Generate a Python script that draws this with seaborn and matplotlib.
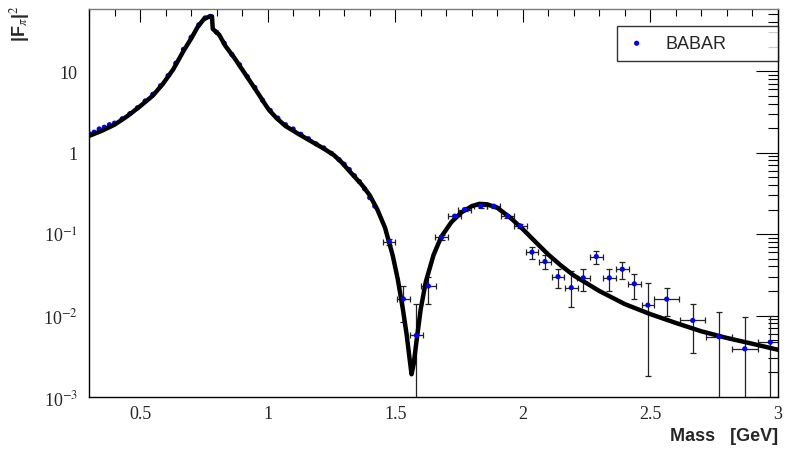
import matplotlib
matplotlib.use("Agg")
import matplotlib.pyplot as plt
import seaborn as sns
import pandas as pd
from matplotlib.ticker import FixedLocator, FixedFormatter, MultipleLocator, LogLocator, NullFormatter

# Fit curve, values
curve_mass = [0.30, 0.35, 0.40, 0.45, 0.50, 0.55, 0.59, 0.63, 0.67, 0.70, 0.725, 0.75, 0.77,
              0.782, 0.785, 0.81, 0.835, 0.87, 0.90, 0.93, 0.965, 0.985, 1.005, 1.035, 1.07,
              1.12, 1.17, 1.22, 1.26, 1.29, 1.33, 1.37, 1.40, 1.43, 1.46, 1.49, 1.51, 1.53,
              1.545, 1.555, 1.564, 1.572, 1.583, 1.60, 1.62, 1.65, 1.68, 1.72, 1.76, 1.80,
              1.83, 1.86, 1.90, 1.95, 2.00, 2.05, 2.10, 2.15, 2.20, 2.30, 2.40, 2.50, 2.60,
              2.70, 2.80, 2.90, 3.00]
curve_ff2 = [1.6, 1.85, 2.2, 2.8, 3.7, 5.0, 7.0, 10.5, 17.6, 25, 34.5, 43.5, 46.5,
             47, 33, 28, 20.3, 14.5, 10.5, 7.6, 5.2, 4.15, 3.35, 2.65, 2.12,
             1.7, 1.38, 1.12, 0.93, 0.76, 0.55, 0.40, 0.30, 0.20, 0.12, 0.055, 0.028, 0.012,
             0.0058, 0.0032, 0.0019, 0.0025, 0.0047, 0.012, 0.026, 0.055, 0.092, 0.14, 0.185, 0.22,
             0.235, 0.232, 0.21, 0.16, 0.115, 0.08, 0.056, 0.041, 0.031, 0.020, 0.0138, 0.0104, 0.0081,
             0.0064, 0.0053, 0.0045, 0.0038]

# BABAR points in the dense region (no visible error bars)
dense_mass = [0.30, 0.32, 0.34, 0.36, 0.38, 0.40, 0.43, 0.46, 0.49, 0.52, 0.55, 0.58, 0.61,
              0.64, 0.67, 0.70, 0.73, 0.755, 0.775, 0.80, 0.83, 0.86, 0.89, 0.92, 0.95, 0.98,
              1.01, 1.04, 1.07, 1.10, 1.13, 1.16, 1.19, 1.22, 1.25, 1.28, 1.30, 1.32, 1.34,
              1.36, 1.38, 1.40, 1.42]
dense_ff2 = [1.72, 1.78, 1.95, 2.05, 2.2, 2.3, 2.6, 3.0, 3.55, 4.3, 5.2, 6.6, 8.8,
             12.5, 18.5, 26, 37, 45, 47, 30, 22, 16, 12, 8.6, 6.3, 4.4,
             3.3, 2.65, 2.2, 1.95, 1.68, 1.48, 1.28, 1.14, 0.98, 0.82, 0.72, 0.62, 0.52,
             0.44, 0.36, 0.28, 0.22]

# BABAR points with error bars
babar_mass = [1.477, 1.532, 1.583, 1.630, 1.682, 1.733, 1.772, 1.835, 1.886, 1.940, 1.990,
              2.036, 2.087, 2.138, 2.190, 2.237, 2.288, 2.339, 2.390, 2.437, 2.490, 2.564,
              2.666, 2.768, 2.870, 2.970]
babar_ff2 = [0.081, 0.016, 0.0057, 0.023, 0.091, 0.166, 0.20, 0.22, 0.22, 0.166, 0.126,
             0.060, 0.046, 0.030, 0.022, 0.029, 0.053, 0.029, 0.037, 0.0245, 0.0134, 0.0159,
             0.0087, 0.0055, 0.0039, 0.0047]
babar_hi = [0.088, 0.023, 0.0138, 0.030, 0.098, 0.172, 0.21, 0.23, 0.23, 0.172, 0.134,
            0.070, 0.055, 0.037, 0.035, 0.037, 0.062, 0.037, 0.045, 0.032, 0.025, 0.022,
            0.0140, 0.011, 0.0095, 0.010]
babar_lo = [0.074, 0.0083, 0.0009, 0.014, 0.085, 0.160, 0.19, 0.21, 0.21, 0.158, 0.118,
            0.050, 0.037, 0.022, 0.0126, 0.020, 0.043, 0.020, 0.028, 0.016, 0.0018, 0.0099,
            0.0035, 0.0009, 0.0009, 0.0009]
babar_xerr = [0.024, 0.026, 0.026, 0.030, 0.026, 0.026, 0.026, 0.026, 0.026, 0.026, 0.026,
              0.022, 0.022, 0.022, 0.026, 0.026, 0.026, 0.026, 0.026, 0.026, 0.024, 0.049,
              0.050, 0.050, 0.050, 0.050]

y_ticks = [1e-3, 1e-2, 1e-1, 1, 10]
y_labels = ["10$^{-3}$", "10$^{-2}$", "10$^{-1}$", "1", "10"]
x_ticks = [0.5, 1, 1.5, 2, 2.5, 3]
x_labels = ["0.5", "1", "1.5", "2", "2.5", "3"]

sns.set_style("white")
plt.rcParams["mathtext.fontset"] = "stix"

fig = plt.figure(figsize=(7.89, 4.52), dpi=100)
ax = fig.add_axes([0.1128, 0.1195, 0.8732, 0.8585])

curve = pd.DataFrame({"mass": curve_mass, "ff2": curve_ff2})
dense = pd.DataFrame({"mass": dense_mass, "ff2": dense_ff2})
babar = pd.DataFrame({"mass": babar_mass, "ff2": babar_ff2})

# error bars first
yerr = [[v - l for v, l in zip(babar_ff2, babar_lo)], [h - v for v, h in zip(babar_ff2, babar_hi)]]
ax.errorbar(babar_mass, babar_ff2, xerr=babar_xerr, yerr=yerr, fmt="none",
            ecolor="#222222", elinewidth=0.9, capsize=2, capthick=0.9, zorder=2)

sns.scatterplot(data=dense, x="mass", y="ff2", ax=ax, color="#0000ff", s=14,
                edgecolor="none", zorder=3, label="BABAR")
sns.lineplot(data=curve, x="mass", y="ff2", ax=ax, color="black", linewidth=3.2,
             estimator=None, sort=False, zorder=4, legend=False)
sns.scatterplot(data=babar, x="mass", y="ff2", ax=ax, color="#0000ff", s=14,
                edgecolor="none", zorder=5, legend=False)

ax.set_yscale("log")
ax.set_xlim(0.3, 3.0)
ax.set_ylim(1e-3, 58)

ax.yaxis.set_major_locator(FixedLocator(y_ticks))
ax.yaxis.set_major_formatter(FixedFormatter(y_labels))
ax.yaxis.set_minor_locator(LogLocator(base=10, subs=range(2, 10)))
ax.yaxis.set_minor_formatter(NullFormatter())
ax.xaxis.set_major_locator(FixedLocator(x_ticks))
ax.xaxis.set_major_formatter(FixedFormatter(x_labels))
ax.xaxis.set_minor_locator(MultipleLocator(0.1))

ax.tick_params(axis="both", which="both", direction="in", top=True, right=True,
               color="black", width=0.8)
ax.tick_params(axis="y", which="major", length=16, pad=8)
ax.tick_params(axis="y", which="minor", length=7)
ax.tick_params(axis="x", which="major", length=9, pad=6)
ax.tick_params(axis="x", which="minor", length=5)
for lab in ax.get_xticklabels() + ax.get_yticklabels():
    lab.set_fontfamily("Liberation Serif")
    lab.set_fontsize(13)

for side in ["left", "bottom", "right", "top"]:
    ax.spines[side].set_color("black")
    ax.spines[side].set_linewidth(1.0)
ax.spines["top"].set_color("#777777")

ax.set_xlabel("")
ax.set_ylabel("")

leg = ax.legend(loc="center", bbox_to_anchor=(0.766, 0.866, 0.234, 0.09), mode="expand",
                borderaxespad=0, frameon=True, fancybox=False, handlelength=1.2,
                handletextpad=1.0, borderpad=0.5, markerscale=1.0,
                prop={"family": "Liberation Sans", "size": 13})
leg.get_frame().set_edgecolor("black")
leg.get_frame().set_linewidth(1.0)

fig.text(0.986, 0.015, "Mass   [GeV]", ha="right", va="bottom", fontsize=13,
         fontweight="bold", family="Liberation Sans")
fig.text(0.010, 0.988, "|F$_\\pi$|$^2$", ha="left", va="top", rotation=90, fontsize=13,
         fontweight="bold", family="Liberation Sans")

fig.savefig("out.png", dpi=100)
